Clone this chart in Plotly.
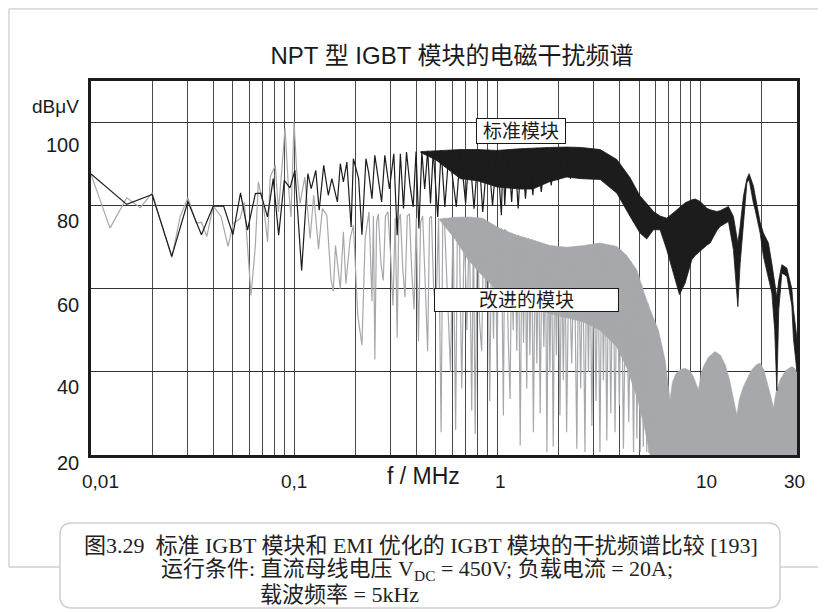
import numpy as np
import plotly.graph_objects as go

# ---------------- data ----------------
# 标准模块 (standard module) – individual spectral lines
std_f = [0.0100, 0.0150, 0.0200, 0.0250, 0.0300, 0.0350, 0.0400, 0.0450, 0.0500, 0.0545,
         0.0590, 0.0645, 0.0685, 0.0740, 0.0790, 0.0840, 0.0895, 0.0955, 0.1010, 0.1090,
         0.1170, 0.1215, 0.1280, 0.1330, 0.1400, 0.1475, 0.1535, 0.1635, 0.1690, 0.1750,
         0.1820, 0.1910, 0.1960, 0.2080, 0.2160, 0.2260, 0.2330, 0.2420, 0.2500, 0.2600,
         0.2700, 0.2800, 0.2950, 0.3100, 0.3220, 0.3340, 0.3460, 0.3580, 0.3720, 0.3860,
         0.3990, 0.4120, 0.4260, 0.4400, 0.4550, 0.4700, 0.4850, 0.5100, 0.5300, 0.5530,
         0.5800, 0.6300, 0.6600, 0.7000, 0.7300, 0.7700, 0.8100, 0.8500, 0.9000, 0.9500,
         1.000, 1.050, 1.070, 1.090, 1.130, 1.180, 1.220, 1.270, 1.320, 1.380,
         1.440, 1.500, 1.570, 1.650, 1.750, 1.850, 1.920, 2.000, 2.150, 2.300, 2.450]
std_db = [87.6, 80.3, 82.7, 67.8, 81.0, 73.0, 79.9, 79.9, 73.0, 83.1,
          74.1, 82.9, 83.0, 77.3, 86.5, 72.9, 86.1, 84.3, 88.5, 64.4,
          87.7, 84.1, 88.5, 78.9, 89.7, 82.5, 86.5, 80.9, 90.1, 85.7,
          90.5, 74.9, 91.3, 86.5, 73.0, 91.3, 88.0, 81.7, 92.1, 86.0,
          80.9, 92.1, 84.0, 92.5, 72.9, 92.5, 79.3, 92.9, 85.0, 79.7,
          93.0, 74.5, 93.0, 84.0, 93.2, 80.5, 93.2, 77.3, 93.3, 79.7,
          93.4, 79.7, 93.5, 80.5, 93.5, 79.3, 93.5, 78.5, 93.5, 80.0,
          93.3, 77.7, 93.4, 80.1, 93.5, 80.9, 93.6, 79.3, 93.7, 81.7,
          93.8, 82.5, 93.9, 83.3, 94.0, 84.9, 94.0, 86.1, 94.1, 86.5, 94.1]

# 标准模块 – dense band (upper / lower envelope)
std_band_f = [0.42, 0.50, 0.58, 0.66, 0.80, 1.00, 1.30, 1.50, 1.80, 2.20, 2.60,
              3.22, 3.89, 4.52, 5.06, 5.46, 5.89, 6.35, 6.85, 7.39, 7.91,
              8.44, 9.10, 9.45, 10.0, 10.79, 11.2, 12.09, 12.55, 13.79, 14.59,
              15.34, 15.74, 16.35, 16.99, 17.43, 18.31, 18.66, 19.38, 19.75, 20.50,
              21.70, 22.56, 23.30, 23.87, 24.40, 25.26, 26.73, 28.29, 28.82, 30.0]
std_band_hi = [93.0, 93.2, 93.4, 93.5, 93.5, 93.3, 93.7, 93.9, 94.0, 94.1, 94.0,
               93.5, 91.1, 86.7, 82.3, 80.5, 78.6, 77.5, 77.0, 78.3, 79.6,
               80.7, 81.4, 81.6, 81.0, 79.4, 79.0, 78.6, 78.8, 79.8, 77.4,
               71.0, 75.0, 82.3, 86.5, 87.7, 84.7, 82.5, 77.4, 76.0, 73.4,
               71.0, 66.0, 62.0, 58.0, 62.0, 65.8, 65.0, 60.0, 55.0, 48.0]
std_band_lo = [92.8, 91.0, 88.5, 86.5, 86.0, 84.5, 84.0, 84.0, 85.7, 86.9, 86.5,
               86.3, 83.0, 77.4, 73.4, 72.0, 74.2, 74.2, 69.4, 63.8, 58.6,
               61.4, 67.0, 68.0, 69.0, 70.5, 71.0, 74.0, 75.0, 76.2, 69.4,
               55.7, 66.0, 75.0, 85.5, 86.3, 80.5, 79.0, 75.5, 73.4, 67.8,
               62.5, 59.0, 50.0, 35.5, 55.0, 63.8, 63.0, 56.0, 48.0, 40.0]

# 改进的模块 (improved module) – individual spectral lines
imp_f = [0.0100, 0.0124, 0.0150, 0.0175, 0.0200, 0.0250, 0.0275, 0.0300, 0.0330, 0.0350,
         0.0372, 0.0400, 0.0437, 0.0473, 0.0502, 0.0543, 0.0569, 0.0596, 0.0614, 0.0645,
         0.0667, 0.0707, 0.0741, 0.0763, 0.0809, 0.0838, 0.0868, 0.0903, 0.0935, 0.0966,
         0.1000, 0.1030, 0.1070, 0.1130, 0.1200, 0.1250, 0.1320, 0.1380, 0.1450, 0.1520,
         0.1560, 0.1600, 0.1690, 0.1750, 0.1800, 0.1890, 0.1960, 0.2060, 0.2160, 0.2240,
         0.2340, 0.2420, 0.2460, 0.2500, 0.2550, 0.2600, 0.2680, 0.2750, 0.2820, 0.2900,
         0.2990, 0.3070, 0.3150, 0.3220, 0.3280, 0.3340, 0.3430, 0.3520, 0.3610, 0.3700,
         0.3800, 0.3900, 0.4000, 0.4100, 0.4200, 0.4300, 0.4420, 0.4550, 0.4650, 0.4750,
         0.4870, 0.5000, 0.5150, 0.5300, 0.5400, 0.5500, 0.5700, 0.5900, 0.6070, 0.6250,
         0.6380, 0.6500, 0.6700, 0.6900, 0.7100, 0.7300, 0.7500, 0.7650, 0.7800, 0.8000,
         0.8200, 0.8400, 0.8600, 0.8800, 0.9000, 0.9200, 0.9400, 0.9600, 0.9800, 1.000,
         1.015, 1.030, 1.050, 1.074, 1.090, 1.110, 1.135, 1.159, 1.180, 1.200,
         1.225, 1.250, 1.275, 1.300, 1.325, 1.350, 1.375, 1.400, 1.425, 1.450,
         1.480, 1.510, 1.540, 1.570, 1.600, 1.630, 1.665, 1.700, 1.730, 1.760,
         1.790, 1.820, 1.855, 1.890, 1.925, 1.960, 2.000, 2.040, 2.080, 2.120,
         2.160, 2.200, 2.260, 2.330, 2.400, 2.470, 2.520, 2.580, 2.640, 2.710,
         2.760, 2.820, 2.870, 2.930, 3.000, 3.070, 3.140, 3.210, 3.280, 3.340,
         3.400, 3.470, 3.550, 3.630, 3.720, 3.810, 3.900, 4.000, 4.100, 4.190,
         4.320, 4.450, 4.580, 4.700, 4.800, 4.880, 4.980, 5.070, 5.160, 5.250,
         5.350, 5.460, 5.530, 5.600, 5.700, 5.800]
imp_db = [87.6, 74.6, 81.9, 79.5, 83.1, 67.5, 77.4, 81.9, 75.8, 76.0,
          72.6, 79.9, 77.4, 70.2, 75.7, 76.9, 80.9, 66.4, 58.4, 70.4,
          85.7, 80.1, 71.3, 86.9, 89.7, 78.5, 88.5, 98.6, 85.7, 77.3,
          100.2, 88.5, 80.5, 86.9, 72.1, 82.5, 69.6, 79.3, 77.7, 62.4,
          59.4, 70.4, 60.0, 73.7, 61.2, 72.1, 75.3, 53.6, 46.4, 72.1,
          78.5, 57.0, 77.5, 43.0, 76.0, 78.0, 66.0, 62.0, 77.5, 78.5,
          68.0, 56.0, 77.0, 48.2, 76.5, 78.0, 65.0, 58.0, 77.5, 78.0,
          64.0, 55.0, 77.0, 47.4, 76.0, 77.5, 62.0, 45.0, 77.0, 77.5,
          60.0, 55.0, 77.0, 25.5, 76.5, 77.0, 58.0, 40.0, 77.0, 26.0,
          76.5, 77.0, 36.0, 76.5, 50.0, 76.0, 30.7, 76.0, 25.0, 77.0,
          52.0, 45.0, 76.5, 58.0, 76.0, 33.0, 75.5, 48.0, 75.0, 40.0,
          74.8, 55.0, 74.6, 29.5, 74.2, 74.0, 48.0, 33.5, 73.5, 50.0,
          73.2, 45.0, 73.0, 22.3, 72.6, 47.0, 72.4, 36.0, 72.2, 44.0,
          71.9, 25.5, 71.6, 42.0, 71.4, 30.0, 71.0, 46.0, 70.8, 20.7,
          70.6, 40.0, 70.4, 22.0, 70.3, 44.0, 70.2, 29.5, 70.1, 38.0,
          70.0, 25.5, 70.0, 42.0, 70.1, 21.5, 70.2, 36.0, 70.3, 20.7,
          70.4, 40.0, 70.6, 27.0, 70.8, 33.0, 71.0, 20.7, 70.9, 38.0,
          70.8, 23.5, 70.6, 30.0, 70.4, 25.5, 70.0, 32.0, 69.2, 21.5,
          68.2, 28.0, 66.5, 20.7, 65.0, 24.0, 63.0, 20.7, 61.0, 22.0,
          58.0, 20.7, 56.5, 20.5, 54.5, 20.5]

# 改进的模块 – dense band (upper / lower envelope)
imp_band_f = [0.52, 0.62, 0.72, 0.85, 1.03, 1.25, 1.51, 1.82, 2.20,
              2.66, 3.21, 3.89, 4.35, 4.88, 5.30, 5.67, 6.23, 6.72, 7.11,
              7.30, 7.60, 8.00, 8.44, 8.90, 9.27, 9.60, 9.81, 10.1, 10.38,
              11.0, 11.86, 12.6, 13.28, 13.9, 14.32, 14.8, 15.17, 15.6, 16.35,
              17.2, 17.97, 19.0, 19.75, 20.6, 21.70, 22.4, 22.97, 23.6, 24.78,
              26.3, 28.29, 29.3, 30.0]
imp_band_hi = [76.8, 77.2, 77.3, 77.0, 74.5, 72.9, 71.7, 70.4, 70.0,
               70.4, 71.0, 70.2, 68.0, 64.5, 59.0, 55.0, 50.1, 42.9, 33.3,
               37.5, 39.6, 40.6, 40.9, 40.3, 38.9, 37.0, 35.7, 39.5, 41.3,
               43.6, 44.9, 44.0, 41.8, 38.5, 35.5, 32.5, 29.6, 33.5, 36.5,
               38.8, 40.5, 41.8, 42.1, 40.5, 36.5, 33.8, 31.3, 35.0, 38.1,
               40.3, 41.3, 40.8, 40.0]
imp_band_lo = [76.6, 72.0, 67.0, 63.0, 59.0, 57.0, 55.5, 54.0, 53.0,
               52.0, 50.0, 46.0, 41.0, 34.0, 27.0, 20.0, 20.0, 20.0, 20.0,
               20.0, 20.0, 20.0, 20.0, 20.0, 20.0, 20.0, 20.0, 20.0, 20.0,
               20.0, 20.0, 20.0, 20.0, 20.0, 20.0, 20.0, 20.0, 20.0, 20.0,
               20.0, 20.0, 20.0, 20.0, 20.0, 20.0, 20.0, 20.0, 20.0, 20.0,
               20.0, 20.0, 20.0, 20.0]

# axes
x_grid_vals = [0.01, 0.02, 0.03, 0.04, 0.05, 0.06, 0.07, 0.08, 0.09,
               0.1, 0.2, 0.3, 0.4, 0.5, 0.6, 0.7, 0.8, 0.9,
               1, 2, 3, 4, 5, 6, 7, 8, 9, 10, 20, 30]
x_tick_vals = [0.01, 0.1, 1, 10, 30]
x_tick_text = ["0,01", "0,1", "1", "10", "30"]
y_grid_vals = [40, 60, 80, 100]
y_tick_vals = [100, 80, 60, 40, 20]
y_tick_text = ["100", "80", "60", "40", "20"]

title_text = "NPT 型 IGBT 模块的电磁干扰频谱"
std_label = "标准模块"
imp_label = "改进的模块"
caption_lines = [
    "图3.29  标准 IGBT 模块和 EMI 优化的 IGBT 模块的干扰频谱比较 [193]",
    "运行条件: 直流母线电压 V<sub>DC</sub> = 450V; 负载电流 = 20A;",
    "载波频率 = 5kHz",
]

# ---------------- layout helpers ----------------
# the page has an 8px body margin, so the figure is placed at (8, 8)
OFF = 8
W, H = 826 - OFF, 612 - OFF
PL, PR, PT, PB = 91, 797, 81, 455     # plot area in window pixels
PW, PH = PR - PL, PB - PT


def px(x):
    return (x - PL) / PW


def py(y):
    return (PB - y) / PH


def pt(x, y):
    return f"{px(x):.5f},{py(y):.5f}"


SANS = "Liberation Sans, Arial, Noto Sans CJK SC, sans-serif"
SERIF = "Liberation Serif, Times New Roman, Noto Sans CJK SC, serif"
BLACK = "#1c1c1c"
GREY = "#a7a8ab"

fig = go.Figure()

# improved module (grey) first
fig.add_trace(go.Scatter(
    x=imp_band_f + imp_band_f[::-1], y=imp_band_hi + imp_band_lo[::-1],
    fill="toself", fillcolor=GREY, mode="lines",
    line=dict(color=GREY, width=0.5), hoverinfo="skip", showlegend=False))
fig.add_trace(go.Scatter(
    x=imp_f, y=imp_db, mode="lines", line=dict(color=GREY, width=1.2),
    showlegend=False))

# standard module (black) on top
fig.add_trace(go.Scatter(
    x=std_band_f + std_band_f[::-1], y=std_band_hi + std_band_lo[::-1],
    fill="toself", fillcolor=BLACK, mode="lines",
    line=dict(color=BLACK, width=0.8), hoverinfo="skip", showlegend=False))
fig.add_trace(go.Scatter(
    x=std_f, y=std_db, mode="lines", line=dict(color=BLACK, width=1.2),
    showlegend=False))

fig.update_xaxes(type="log", range=[np.log10(0.01), np.log10(30)],
                 tickvals=x_grid_vals, showticklabels=False, ticks="",
                 showgrid=True, gridcolor="#4a4a4a", gridwidth=1,
                 showline=True, linecolor=BLACK, linewidth=3, mirror=True,
                 zeroline=False)
fig.update_yaxes(range=[20, 110], tickvals=y_grid_vals, showticklabels=False,
                 ticks="", showgrid=True, gridcolor="#333333", gridwidth=1,
                 showline=True, linecolor=BLACK, linewidth=3, mirror=True,
                 zeroline=False)

annotations = []
# x tick labels
x_shift = {0.01: 9, 0.1: 0, 1: 3, 10: 6, 30: -3}
for v, t in zip(x_tick_vals, x_tick_text):
    annotations.append(dict(x=np.log10(v), xref="x", y=0, yref="paper",
                            text=t, showarrow=False, xanchor="center",
                            yanchor="middle", yshift=-26, xshift=x_shift[v],
                            font=dict(family=SANS, size=19, color="#1a1a1a")))
# y tick labels (printed slightly below their grid lines in the original)
y_shift = {100: -22, 80: -15, 60: -16, 40: -15, 20: -8}
for v, t in zip(y_tick_vals, y_tick_text):
    annotations.append(dict(x=0, xref="paper", y=v, yref="y", text=t,
                            showarrow=False, xanchor="right", yanchor="middle",
                            xshift=-10, yshift=y_shift[v],
                            font=dict(family=SANS, size=20, color="#1a1a1a")))
# axis titles
annotations.append(dict(x=0, xref="paper", y=py(107), yref="paper", text="dBμV",
                        showarrow=False, xanchor="right", yanchor="middle",
                        xshift=-10, font=dict(family=SANS, size=19, color="#1a1a1a")))
annotations.append(dict(x=px(423), xref="paper", y=py(476), yref="paper",
                        text="f / MHz", showarrow=False, xanchor="center",
                        yanchor="middle",
                        font=dict(family=SANS, size=23, color="#1a1a1a")))
# series labels
annotations.append(dict(x=px(521), xref="paper", y=py(130.5), yref="paper",
                        text=std_label, showarrow=False, xanchor="center",
                        yanchor="middle", width=86, height=22, borderpad=1,
                        bgcolor="white", bordercolor="#1a1a1a", borderwidth=1,
                        font=dict(family=SANS, size=19, color="#1a1a1a")))
annotations.append(dict(x=px(526.5), xref="paper", y=py(299.5), yref="paper",
                        text=imp_label, showarrow=False, xanchor="center",
                        yanchor="middle", width=181, height=20, borderpad=1,
                        bgcolor="white", bordercolor="#1a1a1a", borderwidth=1,
                        font=dict(family=SANS, size=19, color="#1a1a1a")))
# caption
annotations.append(dict(x=px(421), xref="paper", y=py(545), yref="paper",
                        text=caption_lines[0], showarrow=False, xanchor="center",
                        yanchor="middle", font=dict(family=SERIF, size=22, color="#222")))
annotations.append(dict(x=px(417), xref="paper", y=py(570), yref="paper",
                        text=caption_lines[1], showarrow=False, xanchor="center",
                        yanchor="middle", font=dict(family=SERIF, size=22, color="#222")))
annotations.append(dict(x=px(258), xref="paper", y=py(594), yref="paper",
                        text=caption_lines[2], showarrow=False, xanchor="left",
                        yanchor="middle", font=dict(family=SERIF, size=22, color="#222")))

shapes = [
    # light outer frame
    dict(type="line", xref="paper", yref="paper", x0=px(8.8), x1=px(830), y0=py(8.8), y1=py(8.8),
         line=dict(color="#dcdcdc", width=2), layer="below"),
    dict(type="line", xref="paper", yref="paper", x0=px(8.8), x1=px(8.8), y0=py(8.8), y1=py(567),
         line=dict(color="#dcdcdc", width=2), layer="below"),
    dict(type="line", xref="paper", yref="paper", x0=px(8.8), x1=px(830), y0=py(567), y1=py(567),
         line=dict(color="#dcdcdc", width=2), layer="below"),
    # rounded caption box
    dict(type="path", xref="paper", yref="paper", layer="above",
         path=(f"M {pt(72,523)} L {pt(768,523)} Q {pt(780,523)} {pt(780,535)} "
               f"L {pt(780,596)} Q {pt(780,608)} {pt(768,608)} L {pt(72,608)} "
               f"Q {pt(60,608)} {pt(60,596)} L {pt(60,535)} Q {pt(60,523)} {pt(72,523)} Z"),
         fillcolor="white", line=dict(color="#cfcfcf", width=1.5)),
]

fig.update_layout(
    width=W, height=H,
    margin=dict(l=PL - OFF, r=W - (PR - OFF), t=PT - OFF, b=H - (PB - OFF)),
    paper_bgcolor="white", plot_bgcolor="white",
    title=dict(text=title_text, x=(452 - OFF) / W, xanchor="center",
               y=1 - (56 - OFF) / H, yanchor="middle",
               font=dict(family=SANS, size=24, color="#1a1a1a")),
    annotations=annotations, shapes=shapes, showlegend=False,
)

fig.write_html("out.html")
